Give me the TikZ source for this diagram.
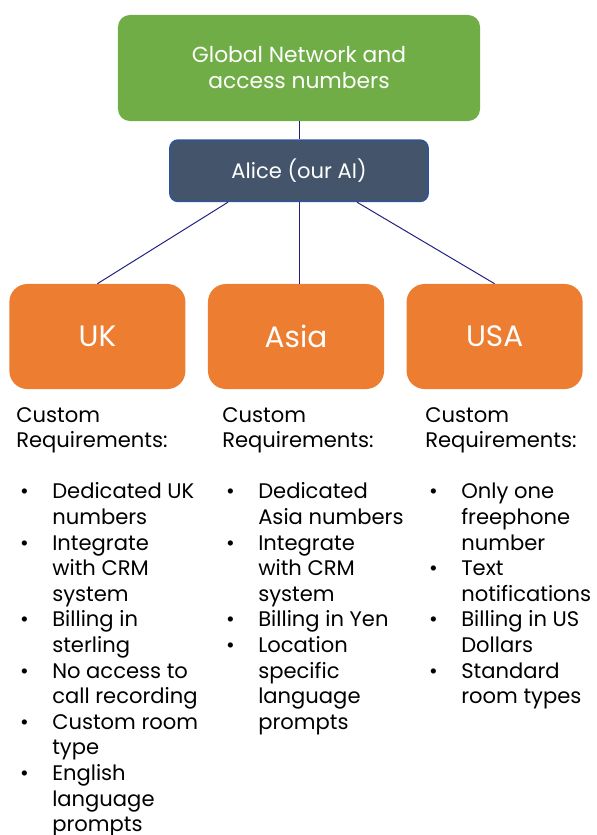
\documentclass[tikz,border=0pt]{standalone}
\usepackage{fontspec}
\setmainfont{Poppins}
\usepackage{array}
\usetikzlibrary{positioning}

\definecolor{netgreen}{HTML}{70AD47}
\definecolor{aifill}{HTML}{44546A}
\definecolor{aiedge}{HTML}{2F5597}
\definecolor{regorange}{HTML}{ED7D31}
\definecolor{linknavy}{RGB}{32,32,128}

\newcommand{\reqhead}{\multicolumn{2}{@{}l}{Custom}\\ \multicolumn{2}{@{}l}{Requirements:}\\ \\}
\newcommand{\itm}{\hspace{2.8pt}\textbullet}

\tikzset{
  region/.style={fill=regorange, rounded corners=0.45cm, minimum width=4.4cm, minimum height=2.625cm, text=white, font=\fontsize{21}{25}\selectfont},
  reqs/.style={anchor=north west, inner sep=0pt, font=\fontsize{15}{18.2}\selectfont},
  link/.style={draw=linknavy, line width=0.7pt}
}

\begin{document}
\begin{tikzpicture}[x=0.025cm, y=-0.025cm]
	\useasboundingbox (0,0) rectangle (597,835);
	\node[fill=netgreen, rounded corners=0.3cm, minimum width=9.05cm, minimum height=2.65cm, text=white, align=center, font=\fontsize{15.5}{18.5}\selectfont] (net) at (299,68) {Global Network and\\access numbers};
	\node[fill=aifill, draw=aiedge, line width=1.2pt, rounded corners=0.2cm, minimum width=6.45cm, minimum height=1.53cm, text=white, font=\fontsize{15}{18}\selectfont, below=0.45cm of net] (alice) {Alice (our AI)};
	\node[region] (asia) at (296,336.5) {Asia};
	\node[region, left=0.55cm of asia] (uk) {UK};
	\node[region, right=0.55cm of asia] (usa) {USA};

	\draw[link] (net.south)--(alice.north);
	\draw[link] ([xshift=-1.775cm]alice.south)--(uk.north);
	\draw[link] (alice.south)--(alice.south |- asia.north);
	\draw[link] ([xshift=1.45cm]alice.south)--(usa.north);

	\node[reqs] (ukreq) at (16,404) {\begin{tabular}{@{}p{25.6pt}@{}l@{}}
		\reqhead
		\itm & Dedicated UK\\ & numbers\\
		\itm & Integrate\\ & with CRM\\ & system\\
		\itm & Billing in\\ & sterling\\
		\itm & No access to\\ & call recording\\
		\itm & Custom room\\ & type\\
		\itm & English\\ & language\\ & prompts
	\end{tabular}};
	\node[reqs] (asiareq) at (222,404) {\begin{tabular}{@{}p{25.6pt}@{}l@{}}
		\reqhead
		\itm & Dedicated\\ & Asia numbers\\
		\itm & Integrate\\ & with CRM\\ & system\\
		\itm & Billing in Yen\\
		\itm & Location\\ & specific\\ & language\\ & prompts
	\end{tabular}};
	\node[reqs] (usareq) at (425,404) {\begin{tabular}{@{}p{25.6pt}@{}l@{}}
		\reqhead
		\itm & Only one\\ & freephone\\ & number\\
		\itm & Text\\ & notifications\\
		\itm & Billing in US\\ & Dollars\\
		\itm & Standard\\ & room types
	\end{tabular}};
\end{tikzpicture}
\end{document}
